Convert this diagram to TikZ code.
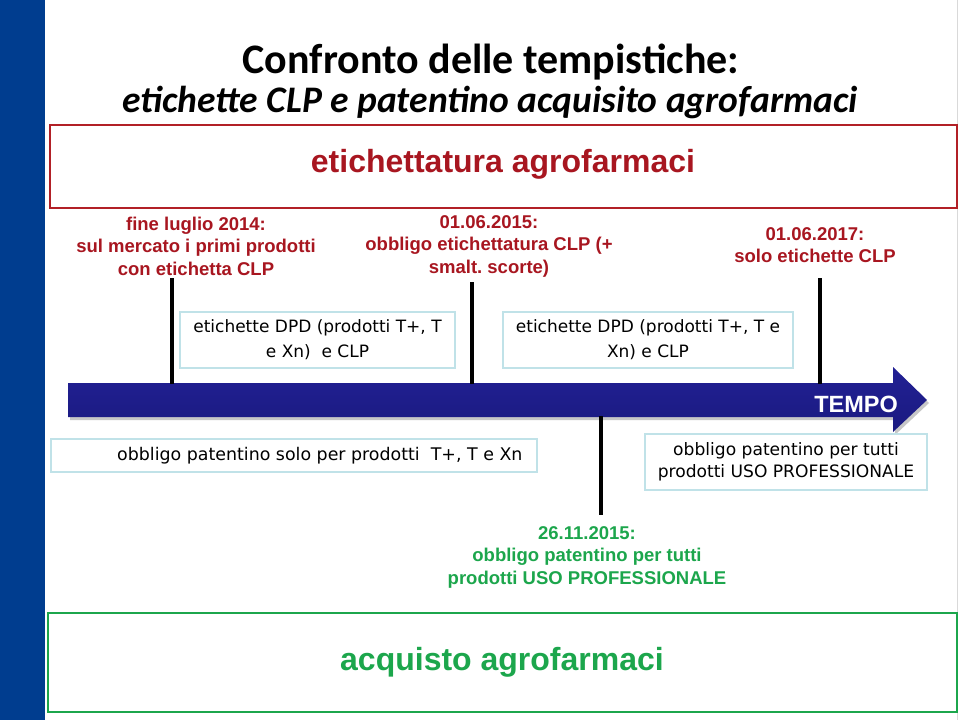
\documentclass[tikz,border=0pt]{standalone}
\usepackage{fontspec}
\setmainfont{Liberation Sans}
\newfontfamily\titlefont{Carlito}
\newfontfamily\boxfont{DejaVu Sans}
\definecolor{bandblue}{RGB}{0,61,143}
\definecolor{darkred}{RGB}{168,22,32}
\definecolor{boxred}{RGB}{178,32,38}
\definecolor{lightbox}{RGB}{192,226,232}
\definecolor{arrowblue}{RGB}{34,32,148}
\definecolor{arrowdark}{RGB}{26,26,128}
\definecolor{greentext}{RGB}{28,166,76}
\tikzset{
  redlabel/.style={text=darkred,font=\frenchspacing\fontsize{18.5}{22.5}\selectfont\bfseries,align=center,inner sep=0pt},
  infobox/.style={draw=lightbox,line width=2.5pt,fill=white,font=\boxfont\fontsize{17}{25}\selectfont,align=center,inner sep=0pt},
  marker/.style={line width=4.5pt,black},
}
\begin{document}
\begin{tikzpicture}[x=1pt,y=-1pt]
\useasboundingbox (0,0) rectangle (960,720);
\fill[white] (0,0) rectangle (960,720);
% left band
\fill[bandblue] (0,0) rectangle (45,720);
\draw[gray!30,line width=1pt] (957,0) -- (957,720);
% title
\node[font=\titlefont\bfseries\fontsize{42}{44}\selectfont] (title) at (491,62) {Confronto delle tempistiche:};
\node[font=\titlefont\bfseries\itshape\fontsize{37.5}{40}\selectfont] (subtitle) at (490,102) {etichette CLP e patentino acquisito agrofarmaci};
% red box
\node[draw=boxred,line width=2pt,minimum width=907pt,minimum height=83pt,inner sep=0pt] (redbox) at (503.5,166.5) {};
\node[text=darkred,font=\fontsize{32}{34}\selectfont\bfseries] (redtitle) at (503,164) {etichettatura agrofarmaci};
% red labels
\node[redlabel] (l2014) at (196,246) {fine luglio 2014:\\sul mercato i primi prodotti\\con etichetta CLP};
\node[redlabel] (l2015) at (489,246) {01.06.2015:\\obbligo etichettatura CLP (+\\smalt. scorte)};
\node[redlabel] (l2017) at (815,245) {01.06.2017:\\solo etichette CLP};
% arrow shadow
\fill[black!22] (70,386) -- (895,386) -- (895,370) -- (929,403) -- (895,435) -- (895,420) -- (70,420) -- cycle;
% arrow
\shade[top color=arrowblue,bottom color=arrowdark]
  (68,383) -- (893,383) -- (893,367) -- (927,400) -- (893,432) -- (893,417) -- (68,417) -- cycle;
\node[text=white,font=\fontsize{23.5}{25}\selectfont\bfseries,anchor=east,inner sep=0pt] (tempo) at (898,404) {TEMPO};
% marker coordinates
\coordinate (m1top) at (172,278);
\coordinate (m1bot) at (172,384);
\coordinate (m2top) at (472,282);
\coordinate (m2bot) at (472,384);
\coordinate (m3top) at (820,278);
\coordinate (m3bot) at (820,384);
\coordinate (m4top) at (601,416);
\coordinate (m4bot) at (601,515);
\draw[marker] (m1top) -- (m1bot);
\draw[marker] (m2top) -- (m2bot);
\draw[marker] (m3top) -- (m3bot);
\draw[marker] (m4top) -- (m4bot);
% info boxes
\node[infobox,minimum width=275pt,minimum height=56pt] (dpd1) at (317.5,340) {etichette DPD (prodotti T+, T\\e Xn)\ \ e CLP};
\node[infobox,minimum width=290pt,minimum height=56pt] (dpd2) at (648,340) {etichette DPD (prodotti T+, T e\\Xn) e CLP};
\node[infobox,minimum width=486pt,minimum height=33pt] (pat1) at (294,455.5) {};
\node[font=\boxfont\fontsize{17.4}{22}\selectfont,anchor=west,inner sep=0pt] (pat1text) at (117,456) {obbligo patentino solo per prodotti\ \ T+, T e Xn};
\node[infobox,font=\boxfont\fontsize{17.1}{22}\selectfont,minimum width=282pt,minimum height=56pt] (pat2) at (786,462) {obbligo patentino per tutti\\prodotti USO PROFESSIONALE};
% green label
\node[text=greentext,font=\fontsize{18.5}{22.5}\selectfont\bfseries,align=center,inner sep=0pt] (l2015b) at (587,557) {26.11.2015:\\obbligo patentino per tutti\\prodotti USO PROFESSIONALE};
% green box
\node[draw=greentext,line width=2pt,minimum width=909pt,minimum height=99pt,inner sep=0pt] (greenbox) at (502.5,662.5) {};
\node[text=greentext,font=\fontsize{32}{34}\selectfont\bfseries] (greentitle) at (502,662) {acquisto agrofarmaci};
\end{tikzpicture}
\end{document}
